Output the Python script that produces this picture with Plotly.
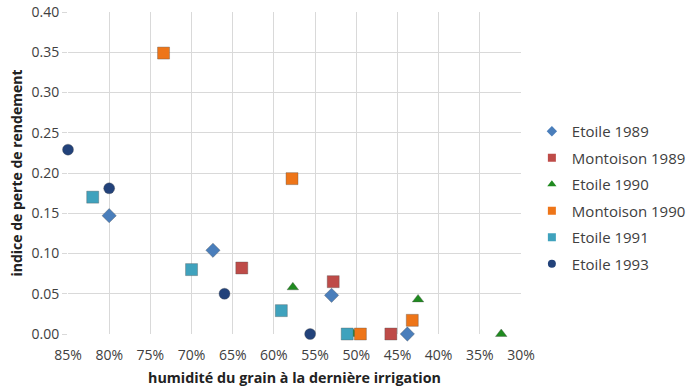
import plotly.graph_objects as go

# Data (x = grain humidity, y = yield loss index)
etoile_1989_x = [0.80, 0.674, 0.530, 0.438]
etoile_1989_y = [0.147, 0.104, 0.048, 0.000]

montoison_1989_x = [0.639, 0.528, 0.458]
montoison_1989_y = [0.082, 0.065, 0.000]

etoile_1990_x = [0.577, 0.503, 0.425, 0.324]
etoile_1990_y = [0.058, 0.000, 0.043, 0.000]

montoison_1990_x = [0.734, 0.578, 0.495, 0.432]
montoison_1990_y = [0.349, 0.193, 0.000, 0.017]

etoile_1991_x = [0.820, 0.700, 0.591, 0.511]
etoile_1991_y = [0.170, 0.080, 0.029, 0.000]

etoile_1993_x = [0.850, 0.800, 0.660, 0.556]
etoile_1993_y = [0.229, 0.181, 0.050, 0.000]

x_ticks = [0.85, 0.80, 0.75, 0.70, 0.65, 0.60, 0.55, 0.50, 0.45, 0.40, 0.35, 0.30]
y_ticks = [0.00, 0.05, 0.10, 0.15, 0.20, 0.25, 0.30, 0.35, 0.40]

series = [
    ("Etoile 1989", etoile_1989_x, etoile_1989_y, "diamond", "#4a7ebb", 11, 8),
    ("Montoison 1989", montoison_1989_x, montoison_1989_y, "square", "#be4b48", 12, 8),
    ("Etoile 1990", etoile_1990_x, etoile_1990_y, "triangle-up", "#1f8a1f", 10, 8),
    ("Montoison 1990", montoison_1990_x, montoison_1990_y, "square", "#ee7518", 12, 8),
    ("Etoile 1991", etoile_1991_x, etoile_1991_y, "square", "#3fa2bd", 12, 8),
    ("Etoile 1993", etoile_1993_x, etoile_1993_y, "circle", "#22427a", 11, 8),
]

fig = go.Figure()
for i, (name, xs, ys, sym, col, sz, lsz) in enumerate(series):
    fig.add_trace(go.Scatter(
        x=xs, y=ys, mode="markers", name=name,
        legendgroup=f"g{i}", showlegend=False,
        marker=dict(symbol=sym, color=col, size=sz,
                    line=dict(color="rgba(80,80,80,0.35)", width=1)),
        cliponaxis=False,
    ))
# legend entries with smaller markers (no data drawn)
for i, (name, xs, ys, sym, col, sz, lsz) in enumerate(series):
    fig.add_trace(go.Scatter(
        x=[None], y=[None], mode="markers", name=name,
        legendgroup=f"g{i}", showlegend=True,
        marker=dict(symbol=sym, color=col, size=lsz),
    ))

font_family = "Open Sans, Liberation Sans, sans-serif"

fig.update_layout(
    width=690, height=388, autosize=False,
    margin=dict(l=68, r=169, t=12, b=54, autoexpand=False),
    paper_bgcolor="white", plot_bgcolor="white",
    font=dict(family=font_family, color="#404040", size=13),
    showlegend=True,
    legend=dict(
        x=1.024, y=0.424, xanchor="left", yanchor="middle",
        font=dict(size=15, color="#404040"),
        tracegroupgap=4,
        bgcolor="rgba(0,0,0,0)",
    ),
    xaxis=dict(
        range=[0.85, 0.30], tickvals=x_ticks, tickformat=".0%",
        showgrid=True, gridcolor="#d9d9d9", gridwidth=1,
        zeroline=False, showline=False, automargin=False,
        ticks="outside", ticklen=4, tickcolor="rgba(0,0,0,0)",
        ticklabelstandoff=4,
        tickfont=dict(size=14, color="#404040"),
        title=dict(text="<b>humidité du grain à la dernière irrigation</b>",
                   font=dict(size=14.3, color="#222222"), standoff=10),
    ),
    yaxis=dict(
        range=[0, 0.40], tickvals=y_ticks, tickformat=".2f",
        showgrid=True, gridcolor="#d9d9d9", gridwidth=1,
        zeroline=False, showline=False, automargin=False,
        ticks="outside", ticklen=5, tickcolor="#d9d9d9",
        tickfont=dict(size=14, color="#404040"),
        title=dict(text="<b>indice de perte de rendement</b>",
                   font=dict(size=14, color="#222222"), standoff=5),
    ),
)

fig.write_html(
    "out.html",
    config={"displayModeBar": False, "responsive": False},
    post_script="document.body.style.margin='0';document.body.style.overflow='hidden';",
)
